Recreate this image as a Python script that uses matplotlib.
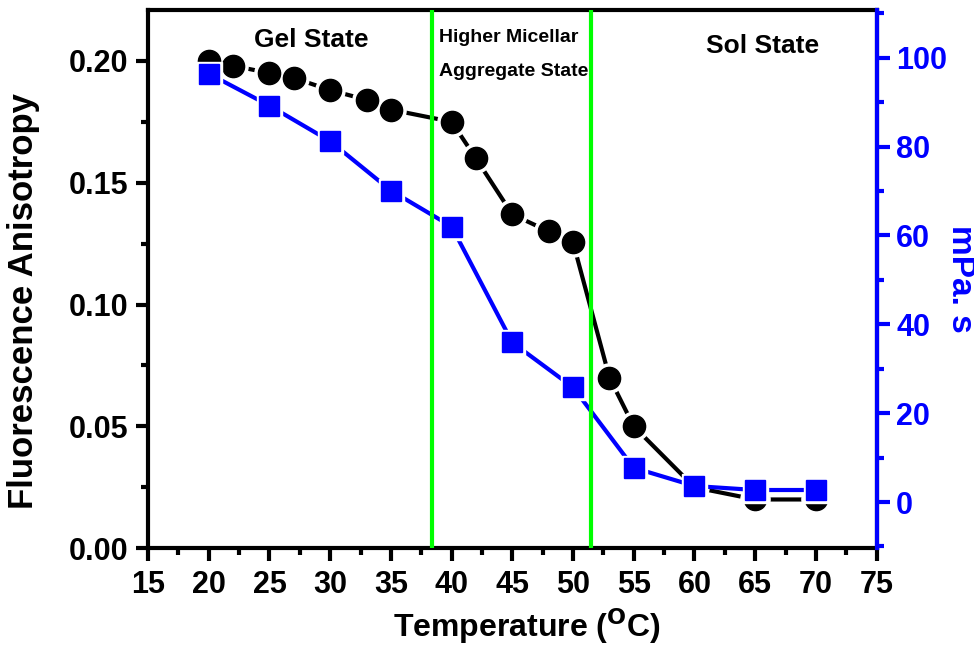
import matplotlib
matplotlib.use("Agg")
import matplotlib.pyplot as plt
from matplotlib.ticker import MultipleLocator

plt.rcParams['font.family'] = ['Liberation Sans', 'DejaVu Sans']
plt.rcParams['font.weight'] = 'bold'

# anisotropy data (black circles)
temp_aniso = [20, 22, 25, 27, 30, 33, 35, 40, 42, 45, 48, 50, 53, 55, 60, 65, 70]
anisotropy = [0.200, 0.198, 0.195, 0.193, 0.188, 0.184, 0.180, 0.175, 0.160,
              0.137, 0.130, 0.1255, 0.070, 0.050, 0.025, 0.020, 0.020]

# viscosity data (blue squares)
temp_visc = [20, 25, 30, 35, 40, 45, 50, 55, 60, 65, 70]
viscosity = [96.4, 89.2, 81.2, 70.1, 62.0, 35.9, 25.8, 7.7, 3.6, 2.7, 2.7]

# phase boundaries
boundaries = [38.4, 51.5]

fig = plt.figure(figsize=(9.74, 6.48), dpi=100)
ax = fig.add_axes([0.152, 0.154, 0.748, 0.831])
ax2 = ax.twinx()

lw_spine = 3
for s in ax.spines.values():
    s.set_linewidth(lw_spine)
ax2.spines['right'].set_color('blue')
ax2.spines['right'].set_linewidth(lw_spine)
for s in ['left', 'top', 'bottom']:
    ax2.spines[s].set_visible(False)

# lines first, then white halos, then markers (origin-style gaps)
ax.plot(temp_aniso, anisotropy, color='black', lw=3, zorder=2)
ax2.plot(temp_visc, viscosity, color='blue', lw=3, zorder=2)
ax.plot(temp_aniso, anisotropy, 'o', color='white', ms=21, zorder=3)
ax2.plot(temp_visc, viscosity, 's', color='white', ms=18, zorder=3)
for b in boundaries:
    ax2.axvline(b, color='#00ff00', lw=3, zorder=4)
ax.plot(temp_aniso, anisotropy, 'o', color='black', ms=16, zorder=5)
ax2.plot(temp_visc, viscosity, 's', color='blue', ms=14, zorder=6)

ax.set_zorder(1)
ax2.set_zorder(2)
ax.patch.set_visible(True)
ax2.patch.set_visible(False)

ax.set_xlim(15, 75)
ax.set_ylim(0, 0.221)
ax2.set_ylim(-10.4, 110.8)

ax.xaxis.set_major_locator(MultipleLocator(5))
ax.xaxis.set_minor_locator(MultipleLocator(2.5))
ax.yaxis.set_major_locator(MultipleLocator(0.05))
ax.yaxis.set_minor_locator(MultipleLocator(0.025))
ax.yaxis.set_major_formatter(matplotlib.ticker.FormatStrFormatter('%.2f'))
ax2.yaxis.set_major_locator(MultipleLocator(20))
ax2.yaxis.set_minor_locator(MultipleLocator(10))

ax.tick_params(axis='both', which='major', direction='out', length=9, width=3)
ax.tick_params(axis='both', which='minor', direction='out', length=5, width=3)
ax.tick_params(axis='y', labelsize=22, pad=5)
ax.tick_params(axis='x', labelsize=22, pad=7)
ax2.tick_params(axis='y', which='major', direction='out', length=9, width=3,
                colors='blue', labelsize=22, pad=5)
ax2.tick_params(axis='y', which='minor', direction='out', length=5, width=3,
                colors='blue')

ax.set_xlabel('Temperature ($\\mathbf{^{O}}$C)', fontsize=23, fontweight='bold')
ax.xaxis.set_label_coords(0.52, -0.108)
ax.set_ylabel('Fluorescence Anisotropy', fontsize=25, fontweight='bold')
ax.yaxis.set_label_coords(-0.148, 0.459)
ax2.set_ylabel('mPa. s', fontsize=24, fontweight='bold', color='blue',
               rotation=270, va='center')
ax2.yaxis.set_label_coords(1.115, 0.5)

ax.text(28.4, 0.2085, 'Gel State', fontsize=19, fontweight='bold',
        ha='center', va='center')
ax.text(65.6, 0.206, 'Sol State', fontsize=19, fontweight='bold',
        ha='center', va='center')
ax.text(39.0, 0.2095, 'Higher Micellar', fontsize=14, fontweight='bold',
        ha='left', va='center')
ax.text(39.0, 0.1955, 'Aggregate State', fontsize=14, fontweight='bold',
        ha='left', va='center')

fig.savefig('out.png', dpi=100)
